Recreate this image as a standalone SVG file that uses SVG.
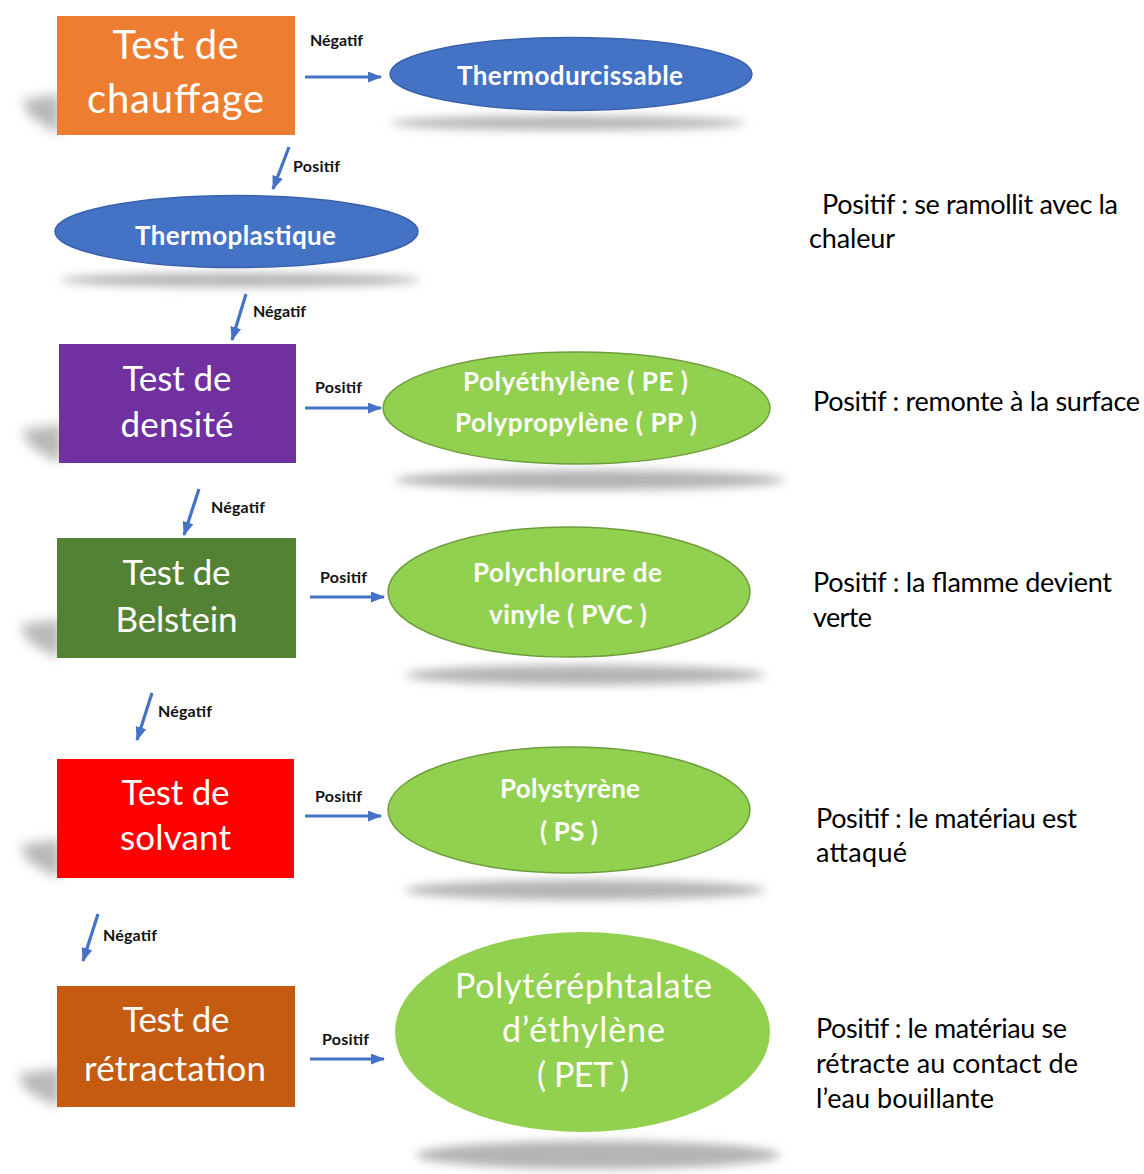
<svg xmlns="http://www.w3.org/2000/svg" width="1144" height="1174" viewBox="0 0 1144 1174">
<style>
.box{stroke:none}
.bt{font-family:Lato,"Liberation Sans",sans-serif;fill:#ffffff;text-anchor:middle}
.et{font-family:Lato,"Liberation Sans",sans-serif;font-weight:bold;fill:#ffffff;text-anchor:middle;font-size:26px}
.lb{font-family:Lato,"Liberation Sans",sans-serif;font-weight:bold;fill:#111;font-size:16px}
.rt{font-family:Lato,"Liberation Sans",sans-serif;fill:#000;font-size:27px}
.blue{fill:#4472C4;stroke:#3A62AC;stroke-width:1.5}
.green{fill:#92D050;stroke:#6E9E3C;stroke-width:1.5}
.esh{fill:#b4b4b4;filter:url(#blur6)}
.bsh{fill:#8a8a8a;opacity:0.6;filter:url(#blur4)}
.arr{stroke:#4472C4;stroke-width:3.2;fill:none;marker-end:url(#ah)}
</style>
<defs>
<filter id="blur6" x="-20%" y="-200%" width="140%" height="500%"><feGaussianBlur stdDeviation="5"/></filter>
<filter id="blur4" x="-50%" y="-50%" width="200%" height="200%"><feGaussianBlur stdDeviation="6"/></filter>
<marker id="ah" markerUnits="userSpaceOnUse" markerWidth="14" markerHeight="11" refX="13" refY="5.5" orient="auto"><path d="M0,0 L14,5.5 L0,11 z" fill="#4472C4"/></marker>
</defs>
<rect width="1144" height="1174" fill="#ffffff"/>

<g id="connectors">
<line class="arr" x1="305" y1="77" x2="381" y2="77"/>
<line class="arr" x1="289" y1="147" x2="273" y2="189"/>
<line class="arr" x1="246" y1="294" x2="232" y2="340"/>
<line class="arr" x1="305" y1="408" x2="381" y2="408"/>
<line class="arr" x1="199" y1="489" x2="184" y2="535"/>
<line class="arr" x1="310" y1="597" x2="384" y2="597"/>
<line class="arr" x1="152" y1="693" x2="137" y2="740"/>
<line class="arr" x1="305" y1="816" x2="381" y2="816"/>
<line class="arr" x1="98" y1="914" x2="83" y2="961"/>
<line class="arr" x1="310" y1="1059" x2="384" y2="1059"/>
<text class="lb" x="310" y="46" textLength="53">Négatif</text>
<text class="lb" x="293" y="172" textLength="47">Positif</text>
<text class="lb" x="253" y="317" textLength="53">Négatif</text>
<text class="lb" x="315" y="393" textLength="47">Positif</text>
<text class="lb" x="211" y="513" textLength="54">Négatif</text>
<text class="lb" x="320" y="583" textLength="47">Positif</text>
<text class="lb" x="158" y="717" textLength="54">Négatif</text>
<text class="lb" x="315" y="802" textLength="47">Positif</text>
<text class="lb" x="103" y="941" textLength="54">Négatif</text>
<text class="lb" x="322" y="1045" textLength="47">Positif</text>
</g>

<g id="test-chauffage">
<polygon class="bsh" points="60,94 22,100 30,116 55,132 60,132"/>
<rect class="box" x="57" y="16" width="238" height="119" fill="#ED7D31"/>
<text class="bt" x="175.5" y="59" font-size="40" textLength="126">Test de</text>
<text class="bt" x="175.5" y="113" font-size="40" textLength="177">chauffage</text>
</g>

<g id="thermodurcissable">
<ellipse class="esh" cx="568" cy="123" rx="178" ry="7"/>
<ellipse class="blue" cx="571" cy="74" rx="181" ry="36.5"/>
<text class="et" x="570" y="85" textLength="226">Thermodurcissable</text>
</g>

<g id="thermoplastique">
<ellipse class="esh" cx="240" cy="280" rx="180" ry="7"/>
<ellipse class="blue" cx="236.5" cy="231.5" rx="181.5" ry="36"/>
<text class="et" x="235.5" y="245" textLength="201">Thermoplastique</text>
</g>

<g id="test-densite">
<polygon class="bsh" points="62,424 22,430 30,446 55,461 62,461"/>
<rect class="box" x="59" y="344" width="237" height="119" fill="#7030A0"/>
<text class="bt" x="177" y="391" font-size="35" textLength="109">Test de</text>
<text class="bt" x="177" y="437" font-size="35" textLength="113">densité</text>
</g>

<g id="pe-pp">
<ellipse class="esh" cx="590" cy="480" rx="195" ry="10"/>
<ellipse class="green" cx="576.5" cy="408" rx="193.5" ry="56"/>
<text class="et" x="575.5" y="391" textLength="225">Polyéthylène ( PE )</text>
<text class="et" x="576" y="432" textLength="242">Polypropylène ( PP )</text>
</g>

<g id="test-belstein">
<polygon class="bsh" points="60,619 20,625 28,641 53,656 60,656"/>
<rect class="box" x="57" y="538" width="239" height="120" fill="#548235"/>
<text class="bt" x="176.5" y="585" font-size="35" textLength="108">Test de</text>
<text class="bt" x="176.5" y="632" font-size="35" textLength="122">Belstein</text>
</g>

<g id="pvc">
<ellipse class="esh" cx="585" cy="675" rx="180" ry="10"/>
<ellipse class="green" cx="569" cy="592" rx="181" ry="65"/>
<text class="et" x="567.5" y="582" textLength="189">Polychlorure de</text>
<text class="et" x="568" y="624" textLength="158">vinyle ( PVC )</text>
</g>

<g id="test-solvant">
<polygon class="bsh" points="60,839 20,845 28,861 53,876 60,876"/>
<rect class="box" x="57" y="759" width="237" height="119" fill="#FF0000"/>
<text class="bt" x="175.5" y="805" font-size="35" textLength="108">Test de</text>
<text class="bt" x="175.5" y="850" font-size="35" textLength="111">solvant</text>
</g>

<g id="ps">
<ellipse class="esh" cx="585" cy="890" rx="180" ry="10"/>
<ellipse class="green" cx="569" cy="810" rx="181" ry="63"/>
<text class="et" x="570" y="798" textLength="140">Polystyrène</text>
<text class="et" x="569" y="841" textLength="58">( PS )</text>
</g>

<g id="test-retractation">
<polygon class="bsh" points="60,1068 18,1074 26,1090 53,1105 60,1105"/>
<rect class="box" x="57" y="986" width="238" height="121" fill="#C55A11"/>
<text class="bt" x="176" y="1032" font-size="35" textLength="107">Test de</text>
<text class="bt" x="175" y="1081" font-size="35" textLength="182">rétractation</text>
</g>

<g id="pet">
<ellipse class="esh" cx="598" cy="1155" rx="182" ry="14"/>
<ellipse cx="582.5" cy="1032" rx="187.5" ry="100" fill="#92D050"/>
<text class="bt" x="583.5" y="998" font-size="34" textLength="257">Polytéréphtalate</text>
<text class="bt" x="583.5" y="1042" font-size="34" textLength="163">d’éthylène</text>
<text class="bt" x="583" y="1087" font-size="34" textLength="92">( PET )</text>
</g>

<g id="notes">
<text class="rt" x="822" y="214" textLength="296">Positif : se ramollit avec la</text>
<text class="rt" x="809" y="248" textLength="86">chaleur</text>
<text class="rt" x="813" y="411" textLength="327">Positif : remonte à la surface</text>
<text class="rt" x="813" y="592" textLength="299">Positif : la flamme devient</text>
<text class="rt" x="813" y="627" textLength="59">verte</text>
<text class="rt" x="816" y="828" textLength="261">Positif : le matériau est</text>
<text class="rt" x="816" y="862" textLength="91">attaqué</text>
<text class="rt" x="816" y="1038" textLength="251">Positif : le matériau se</text>
<text class="rt" x="816" y="1073" textLength="262">rétracte au contact de</text>
<text class="rt" x="816" y="1108" textLength="178">l’eau bouillante</text>
</g>
</svg>
